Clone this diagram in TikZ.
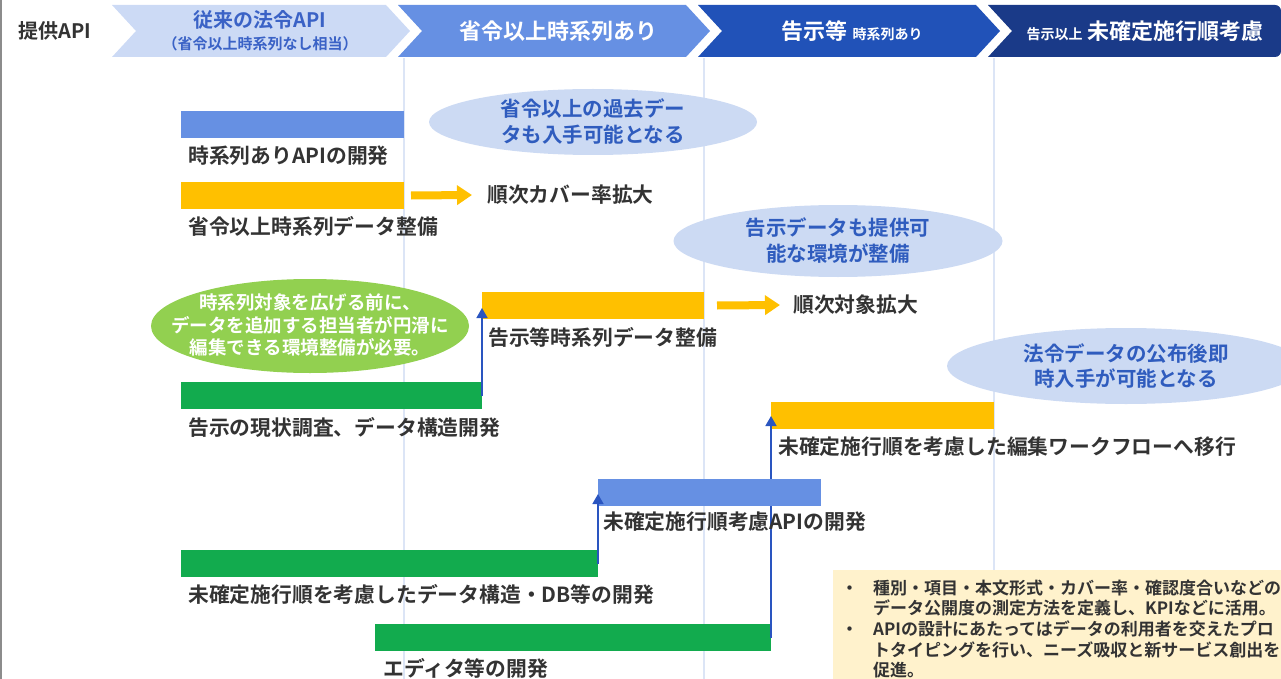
\documentclass[tikz,border=0pt]{standalone}
\usepackage{fontspec}
\setmainfont{Noto Sans CJK JP}[BoldFont={Noto Sans CJK JP Bold}]
\usetikzlibrary{arrows.meta,shapes.geometric,calc}

\definecolor{hdonefill}{HTML}{CCDAF5}
\definecolor{hdtwofill}{HTML}{6690E3}
\definecolor{hdthreefill}{HTML}{2152B8}
\definecolor{hdfourfill}{HTML}{1A3A88}
\definecolor{hdonetext}{HTML}{3A62C6}
\definecolor{barblue}{HTML}{6690E3}
\definecolor{baryellow}{HTML}{FFC000}
\definecolor{bargreen}{HTML}{12AB4E}
\definecolor{leafgreen}{HTML}{92D050}
\definecolor{bubblefill}{HTML}{CCDAF3}
\definecolor{bubbletext}{HTML}{2F5CBE}
\definecolor{guidecol}{HTML}{DCE5F6}
\definecolor{notefill}{HTML}{FFF2CC}
\definecolor{lbltext}{HTML}{333333}
\definecolor{linkblue}{HTML}{2A55C0}

\begin{document}
\begin{tikzpicture}
[x=1pt, y=-1pt,
bar/.style={rectangle, inner sep=0pt, outer sep=0pt, minimum height=27pt},
apibar/.style={bar, fill=barblue},
databar/.style={bar, fill=baryellow},
devbar/.style={bar, fill=bargreen},
lbl/.style={anchor=west, inner sep=0pt, text=lbltext, font=\bfseries\fontsize{20.8}{24}\selectfont},
bubble/.style={ellipse, fill=bubblefill, inner sep=0pt},
bubbletxt/.style={align=center, inner sep=0pt, text=bubbletext, font=\bfseries\fontsize{20.5}{26}\selectfont},
hdtxt/.style={align=center, inner sep=0pt, text=white, font=\bfseries\fontsize{22}{24}\selectfont},
guideline/.style={draw=guidecol, line width=2pt},
yarrow/.style={draw=baryellow, line width=8pt, -{Triangle[length=15pt,width=19pt]}},
linkarrow/.style={draw=linkblue, line width=1.5pt, -{Triangle[length=10pt,width=11pt]}}]

\useasboundingbox (0,0) rectangle (1281,679);
\clip (0,0) rectangle (1281,679);

% guides and frame
\draw[guideline] (404,58) -- (404,679);
\draw[guideline] (704,58) -- (704,679);
\draw[guideline] (994,58) -- (994,679);
\draw[black!45, line width=2pt] (1,0) -- (1,679);

% header
\node[inner sep=0pt, text=lbltext, font=\bfseries\fontsize{20}{24}\selectfont] (hdapi) at (55,31) {提供API};

\fill[hdonefill] (112,5) -- (386,5) -- (410,31) -- (386,57) -- (112,57) -- (136,31) -- cycle;
\fill[hdtwofill] (398,5) -- (686,5) -- (710,31) -- (686,57) -- (398,57) -- (422,31) -- cycle;
\fill[hdthreefill] (698,5) -- (976,5) -- (1000,31) -- (976,57) -- (698,57) -- (722,31) -- cycle;
\fill[hdfourfill] (988,5) -- (1275,5) arc(270:360:6) -- (1281,51) arc(0:90:6) -- (988,57) -- (1012,31) -- cycle;

\node[hdtxt, text=hdonetext, font=\bfseries\fontsize{20}{24}\selectfont] (hdold) at (260,20) {従来の法令API};
\node[hdtxt, text=hdonetext, font=\bfseries\fontsize{15}{18}\selectfont] (hdoldsub) at (260,44) {（省令以上時系列なし相当）};
\node[hdtxt] (hdord) at (558,31) {省令以上時系列あり};
\node[hdtxt] (hdnotice) at (852,31) {告示等\ {\fontsize{14}{16}\selectfont 時系列あり}};
\node[hdtxt] (hdpending) at (1145,31) {{\fontsize{14}{16}\selectfont 告示以上}\ 未確定施行順考慮};

% bubbles
\node[bubble, minimum width=328pt, minimum height=66pt] (pastbubble) at (593,122) {};
\node[bubbletxt] (pasttxt) at (pastbubble) {省令以上の過去デー\\タも入手可能となる};
\node[bubble, minimum width=329pt, minimum height=72pt] (noticebubble) at (838,241) {};
\node[bubbletxt] (noticetxt) at (noticebubble) {告示データも提供可\\能な環境が整備};
\node[bubble, minimum width=358pt, minimum height=76pt] (promulgbubble) at (1126,366) {};
\node[bubbletxt, font=\bfseries\fontsize{20.5}{24.5}\selectfont] (promulgtxt) at (promulgbubble) {法令データの公布後即\\時入手が可能となる};
\node[ellipse, fill=leafgreen, inner sep=0pt, minimum width=318pt, minimum height=94pt] (leaf) at (310,326) {};
\node[align=center, inner sep=0pt, text=white, font=\bfseries\fontsize{18.5}{22.5}\selectfont] (leaftxt) at (310,325) {時系列対象を広げる前に、\\データを追加する担当者が円滑に\\編集できる環境整備が必要。};

% bars
\node[apibar, minimum width=223pt] (tsapibar) at (292.5,124.5) {};
\node[lbl] (tsapilbl) at (188,156) {時系列ありAPIの開発};

\node[databar, minimum width=223pt] (ordbar) at (292.5,195.5) {};
\node[lbl] (ordlbl) at (188,226) {省令以上時系列データ整備};
\node[lbl] (covtxt) at (487,195) {順次カバー率拡大};
\draw[yarrow] ([xshift=7pt]ordbar.east) -- ([xshift=-15pt]covtxt.west);

\node[databar, minimum width=222pt] (noticebar) at (593,305.5) {};
\node[lbl] (noticelbl) at (488,337) {告示等時系列データ整備};
\node[lbl] (exptxt) at (793,305) {順次対象拡大};
\draw[yarrow] ([xshift=13pt]noticebar.east) -- ([xshift=-13pt]exptxt.west);

\node[devbar, minimum width=301pt] (surveybar) at (331.5,395.5) {};
\node[lbl] (surveylbl) at (188,427) {告示の現状調査、データ構造開発};
\draw[linkarrow] (surveybar.east) -- ([yshift=11pt]surveybar.east |- noticebar.south);

\node[databar, minimum width=223pt] (flowbar) at (882.5,415.5) {};
\node[lbl] (flowlbl) at (778,447) {未確定施行順を考慮した編集ワークフローへ移行};

\node[devbar, minimum width=417pt] (dbbar) at (389.5,563.5) {};
\node[lbl] (dblbl) at (188,594) {未確定施行順を考慮したデータ構造・DB等の開発};

\node[devbar, minimum width=396pt] (editbar) at (573,637.5) {};
\node[lbl] (editlbl) at (383,668) {エディタ等の開発};
\draw[linkarrow] (editbar.east) -- ([yshift=13pt]editbar.east |- flowbar.south);

\node[apibar, minimum width=223pt] (pendapibar) at (709.5,492.5) {};
\node[lbl] (pendapilbl) at (603,522) {未確定施行順考慮APIの開発};
\draw[linkarrow] (dbbar.east) -- ([yshift=12pt]dbbar.east |- pendapibar.south);

% note
\fill[notefill] (833,570) rectangle (1290,690);
\node[anchor=west, align=left, inner sep=0pt, text=lbltext, font=\bfseries\fontsize{17}{20.7}\selectfont] (notetxt) at (841,629)
{\makebox[32pt][l]{・}種別・項目・本文形式・カバー率・確認度合いなどの\\
\hspace*{32pt}データ公開度の測定方法を定義し、KPIなどに活用。\\
\makebox[32pt][l]{・}APIの設計にあたってはデータの利用者を交えたプロ\\
\hspace*{32pt}トタイピングを行い、ニーズ吸収と新サービス創出を\\
\hspace*{32pt}促進。};

\end{tikzpicture}
\end{document}
